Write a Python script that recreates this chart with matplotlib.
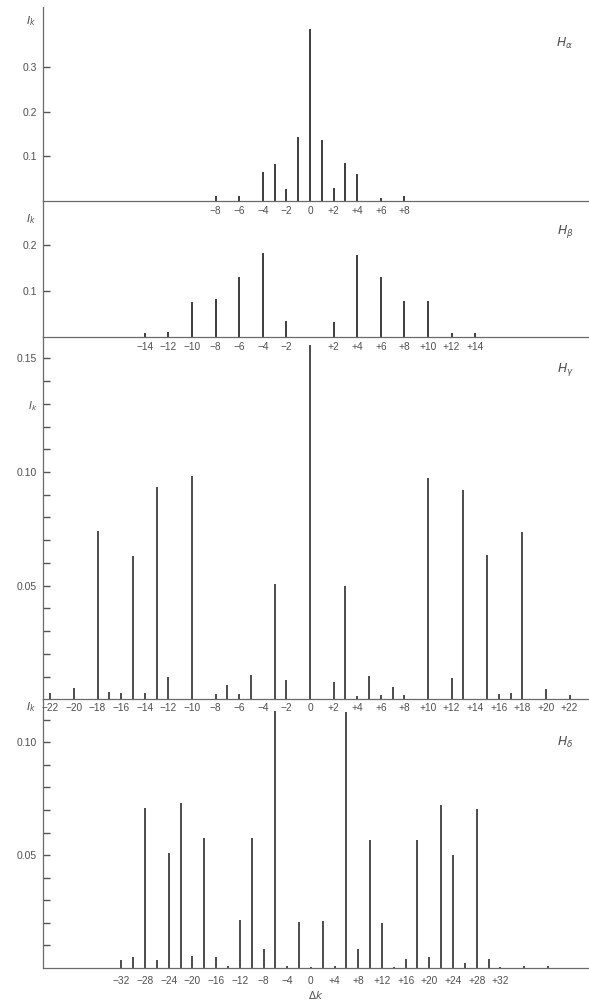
import numpy as np
import matplotlib
matplotlib.use("Agg")
import matplotlib.pyplot as plt

plt.rcParams["font.family"] = ["Liberation Sans", "DejaVu Sans"]

# Stark components: position (delta k) and relative intensity I_k
ha_k = [-8, -6, -4, -3, -2, -1, 0, 1, 2, 3, 4, 6, 8]
ha_i = [0.011, 0.010, 0.065, 0.083, 0.027, 0.143, 0.386, 0.136, 0.028, 0.085, 0.061, 0.006, 0.010]

hb_k = [-14, -12, -10, -8, -6, -4, -2, 2, 4, 6, 8, 10, 12, 14]
hb_i = [0.008, 0.011, 0.075, 0.081, 0.129, 0.181, 0.034, 0.032, 0.178, 0.129, 0.077, 0.077, 0.007, 0.007]

hg_k = [-22, -20, -18, -17, -16, -15, -14, -13, -12, -10, -8, -7, -6, -5, -3, -2, 0,
        2, 3, 4, 5, 6, 7, 8, 10, 12, 13, 15, 16, 17, 18, 20, 22]
hg_i = [0.0026, 0.0048, 0.074, 0.003, 0.0026, 0.063, 0.0026, 0.0934, 0.0096, 0.0982,
        0.0023, 0.0061, 0.0023, 0.0105, 0.0509, 0.0085, 0.156,
        0.0076, 0.050, 0.0016, 0.0104, 0.0019, 0.0056, 0.0019, 0.0975, 0.0095, 0.092,
        0.0636, 0.0022, 0.0026, 0.0736, 0.0044, 0.0019]

hd_k = [-32, -30, -28, -26, -24, -22, -20, -18, -16, -14, -12, -10, -8, -6, -4, -2, 0,
        2, 4, 6, 8, 10, 12, 14, 16, 18, 20, 22, 24, 26, 28, 30, 32, 36, 40]
hd_i = [0.0033, 0.0047, 0.0708, 0.0033, 0.051, 0.073, 0.0054, 0.0575, 0.0047, 0.001,
        0.021, 0.0575, 0.0084, 0.114, 0.0009, 0.0204, 0.0003,
        0.0206, 0.0009, 0.1135, 0.0083, 0.0565, 0.0198, 0.0003, 0.0041, 0.0565, 0.0047,
        0.072, 0.050, 0.0023, 0.0706, 0.0039, 0.0005, 0.0008, 0.0008]

ha_xt = [-8, -6, -4, -2, 0, 2, 4, 6, 8]
hb_xt = [-14, -12, -10, -8, -6, -4, -2, 2, 4, 6, 8, 10, 12, 14]
hg_xt = list(range(-22, 23, 2))
hd_xt = list(range(-32, 33, 4))

TXT = "#505050"
BAR = "#2e2e2e"
AX = "#6a6a6a"


def klabel(v):
    if v < 0:
        return "\u2212" + str(-v)
    if v > 0:
        return "+" + str(v)
    return "0"


def ylabels(ticks, named):
    return [named.get(round(v, 2), "") for v in ticks]


fig = plt.figure(figsize=(5.89, 10), dpi=100)

L, W = 42.7 / 589, (588 - 42.7) / 589


def panel(bot, top, ylim, xlim):
    # bot/top in pixels from the top of the figure
    ax = fig.add_axes([L, 1 - bot / 1000, W, (bot - top) / 1000])
    ax.patch.set_visible(False)
    ax.set_xlim(*xlim)
    ax.set_ylim(0, ylim)
    for s in ["top", "right"]:
        ax.spines[s].set_visible(False)
    for s in ["left", "bottom"]:
        ax.spines[s].set_color(AX)
        ax.spines[s].set_linewidth(0.9)
    ax.tick_params(axis="y", direction="in", length=5, width=1.0, color="#555555",
                   labelsize=7.5, labelcolor=TXT, pad=4)
    ax.tick_params(axis="x", length=0, labelsize=7.3, labelcolor=TXT, pad=4)
    return ax


xl = (-22.65, 23.56)

# H alpha
ax1 = panel(200.7, 7, 193.7 / 445, xl)
ax1.vlines(ha_k, 0, ha_i, color=BAR, lw=1.3)
ax1.set_yticks([0.1, 0.2, 0.3])
ax1.set_yticklabels(["0.1", "0.2", "0.3"])
ax1.set_xticks(ha_xt)
ax1.set_xticklabels([klabel(v) for v in ha_xt])

# H beta
ax2 = panel(336.7, 200.7, 136 / 460, xl)
ax2.vlines(hb_k, 0, hb_i, color=BAR, lw=1.3)
ax2.set_yticks([0.1, 0.2])
ax2.set_yticklabels(["0.1", "0.2"])
ax2.set_xticks(hb_xt)
ax2.set_xticklabels([klabel(v) for v in hb_xt])

# H gamma
ax3 = panel(699.3, 336.7, 362.6 / 2273, xl)
ax3.vlines(hg_k, 0, hg_i, color=BAR, lw=1.2)
yt3 = np.round(np.arange(0.01, 0.155, 0.01), 2)
ax3.set_yticks(yt3)
ax3.set_yticklabels(ylabels(yt3, {0.05: "0.05", 0.10: "0.10", 0.15: "0.15", 0.13: r"$I_k$"}))
ax3.set_xticks(hg_xt)
ax3.set_xticklabels([klabel(v) for v in hg_xt])
ax3.tick_params(axis="x", pad=2.5)

# H delta
ax4 = panel(967.8, 699.3, 268.5 / 2255, (-45.3, 46.8))
ax4.vlines(hd_k, 0, hd_i, color=BAR, lw=1.2)
yt4 = np.round(np.arange(0.01, 0.115, 0.01), 2)
ax4.set_yticks(yt4)
ax4.set_yticklabels(ylabels(yt4, {0.05: "0.05", 0.10: "0.10"}))
ax4.set_xticks(hd_xt)
ax4.set_xticklabels([klabel(v) for v in hd_xt])
ax4.tick_params(axis="x", pad=6)
ax4.set_xlabel(r"$\Delta k$", fontsize=7.5, color=TXT, labelpad=2)

# line names and I_k labels at the top of each panel
for y, name in [(43, r"$H_\alpha$"), (232, r"$H_\beta$"), (370, r"$H_\gamma$"), (742, r"$H_\delta$")]:
    fig.text(565 / 589, 1 - y / 1000, name, fontsize=9, color=TXT, ha="center", va="center")
for y in [21, 219, 707]:
    fig.text(31 / 589, 1 - y / 1000, r"$I_k$", fontsize=8, color=TXT, ha="center", va="center")

fig.savefig("out.png", dpi=100, facecolor="white")
